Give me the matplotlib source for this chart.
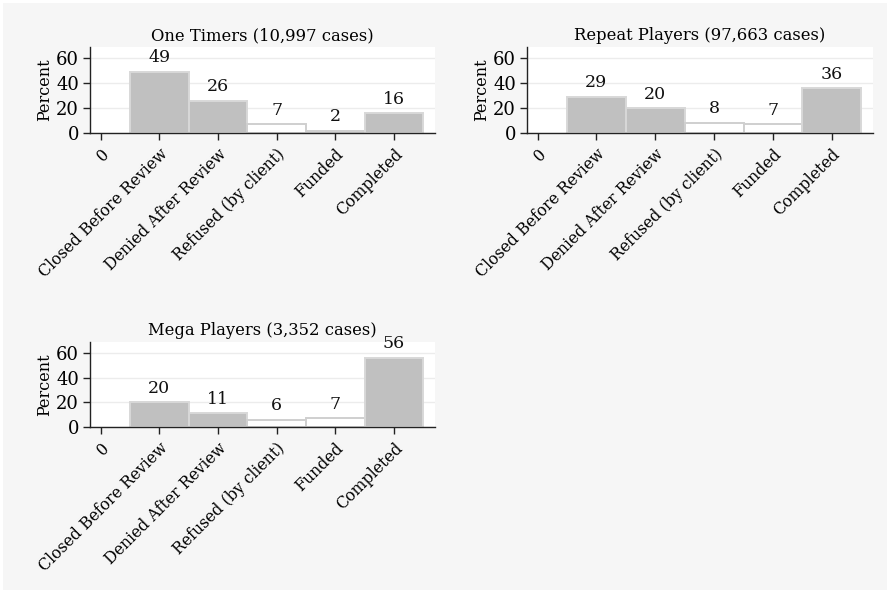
import matplotlib.pyplot as plt
from matplotlib.patches import Rectangle

plt.rcParams['font.family'] = ['DejaVu Serif']

# categories (x = 0 is an empty slot with label "0")
categories = ["0", "Closed Before Review", "Denied After Review",
              "Refused (by client)", "Funded", "Completed"]
positions = [1, 2, 3, 4, 5]

one_timers = [49, 26, 7, 2, 16]
repeat_players = [29, 20, 8, 7, 36]
mega_players = [20, 11, 6, 7, 56]

panels = [
    ("One Timers (10,997 cases)", one_timers),
    ("Repeat Players (97,663 cases)", repeat_players),
    ("Mega Players (3,352 cases)", mega_players),
]

# gray fill for all but the two middle-right categories
fill_colors = ["#c0c0c0", "#c0c0c0", "#ffffff", "#ffffff", "#c0c0c0"]
edge_colors = ["#d8d8d8", "#d8d8d8", "#cfcfcf", "#cfcfcf", "#d8d8d8"]

W, H = 890, 596
fig = plt.figure(figsize=(W / 100, H / 100), dpi=100)
fig.patch.set_facecolor("white")
fig.patches.append(Rectangle((3 / W, 6 / H), (W - 6) / W, (H - 9) / H,
                             transform=fig.transFigure, fc="#f6f6f6",
                             ec="none", zorder=-10))

# axes boxes in pixels: left, right, top, bottom
boxes = [(90, 435, 47, 133), (527, 873, 47, 133), (90, 435, 342, 427)]

for (title, vals), (l, r, t, b) in zip(panels, boxes):
    ax = fig.add_axes([l / W, 1 - b / H, (r - l) / W, (b - t) / H])
    ax.set_facecolor("white")
    ax.bar(positions, vals, width=1.0, color=fill_colors,
           edgecolor=edge_colors, linewidth=1.4, zorder=2)
    for x, v in zip(positions, vals):
        ax.annotate(f"{v}", (x, v), xytext=(0, 4), textcoords="offset points",
                    ha="center", va="bottom", fontsize=12.5, color="#111111")
    ax.set_xlim(-0.18, 5.7)
    ax.set_ylim(0, 69)
    ax.set_yticks([0, 20, 40, 60])
    ax.set_xticks(range(len(categories)))
    ax.set_xticklabels(categories, rotation=45, ha="right",
                       rotation_mode="anchor", fontsize=11.3)
    ax.tick_params(axis="y", labelsize=13, length=5, width=1, pad=3,
                   color="#222222")
    ax.tick_params(axis="x", length=5, width=1, pad=4, color="#222222")
    ax.set_ylabel("Percent", fontsize=11.5, labelpad=2)
    ax.set_title(title, fontsize=11.8, pad=5)
    ax.grid(axis="y", color="#ececec", linewidth=1.0, zorder=0)
    ax.set_axisbelow(True)
    for s in ["top", "right"]:
        ax.spines[s].set_visible(False)
    for s in ["left", "bottom"]:
        ax.spines[s].set_color("#222222")
        ax.spines[s].set_linewidth(1.0)

fig.savefig("out.png", dpi=100, facecolor=fig.get_facecolor())
